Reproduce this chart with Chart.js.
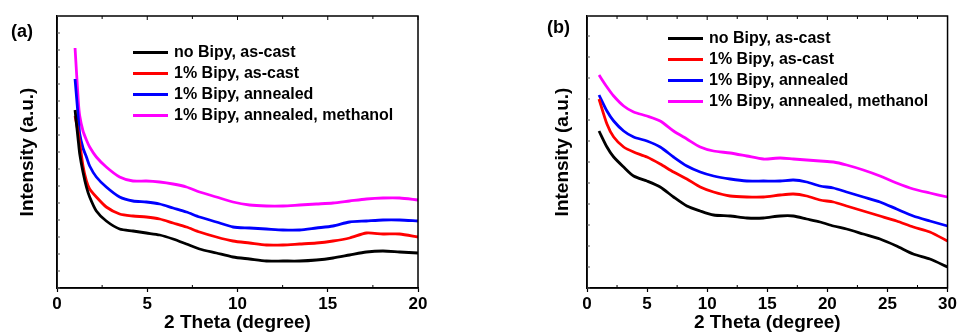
<!DOCTYPE html>
<html lang="en">
<head>
  <meta charset="UTF-8">
  <title>XRD curves</title>
  <script src="https://cdn.jsdelivr.net/npm/chart.js"></script>
  <style>
    body { margin: 0; background: #fff; font-family: 'Liberation Sans', Arial, sans-serif; }
    .wrap { position: relative; width: 959px; height: 334px; overflow: hidden; }
    canvas { position: absolute; top: 0; }
    #chartA { left: 0; }
    #chartB { left: 480px; }
    .panel { position: absolute; font-weight: bold; font-size: 18px; line-height: 18px; color: #000; }
    .legend { position: absolute; font-weight: bold; font-size: 16px; color: #000; }
    .legend .row { position: absolute; left: 0; height: 21px; white-space: nowrap; }
    .legend .swatch { position: absolute; left: 0; top: 9px; width: 35px; height: 3px; }
    .legend .txt { position: absolute; left: 41px; top: 1px; line-height: 18px; }
  </style>
</head>
<body>
<div class="wrap">
  <canvas id="chartA" width="480" height="334"></canvas>
  <canvas id="chartB" width="479" height="334"></canvas>
  <div class="panel" style="left:11px; top:22px;">(a)</div>
  <div class="panel" style="left:547px; top:18px;">(b)</div>
  <div class="legend" id="legendA" style="left:133px; top:42px;"></div>
  <div class="legend" id="legendB" style="left:668px; top:28px;"></div>
</div>
<script>
// series
const seriesNames = ["no Bipy, as-cast", "1% Bipy, as-cast", "1% Bipy, annealed", "1% Bipy, annealed, methanol"];
const seriesColors = ["#000000", "#ff0000", "#0000ff", "#ff00ff"];

// panel (a): 2 Theta 0-20
const xA = [1.0, 1.18, 1.26, 1.44, 1.63, 1.81, 2.18, 2.73, 3.47, 4.21, 4.95, 5.69, 6.43, 7.17, 7.90, 8.83, 9.75, 10.67, 11.6, 12.52, 13.44, 14.37, 15.29, 16.21, 17.14, 18.06, 18.98, 20];
const blackA   = [178, 147, 134, 116, 101, 91, 77, 67, 59, 57, 55, 53, 49, 44, 39, 35, 31, 29, 27, 27, 27, 28, 30, 33, 36, 37, 36, 35];
const redA     = [172, 155, 145, 122, 107, 99, 91, 81, 74, 72, 71, 69, 65, 61, 56, 51, 47, 45, 43, 43, 44, 45, 47, 50, 55, 54, 54, 51];
const blueA    = [209, 170, 154, 140, 131, 122, 111, 101, 91, 87, 86, 84, 80, 76, 71, 66, 61, 60, 59, 58, 58, 60, 62, 66, 67, 68, 68, 67];
const magentaA = [240, 187, 172, 157, 148, 141, 131, 121, 111, 107, 107, 106, 104, 101, 96, 91, 86, 83, 82, 82, 83, 84, 85, 87, 89, 90, 90, 88];

// panel (b): 2 Theta 0-30
const xB = [1.0, 1.66, 2.22, 3.05, 3.88, 4.99, 6.09, 7.2, 8.31, 9.42, 10.53, 11.91, 13.3, 14.68, 16.07, 17.17, 18.28, 19.39, 20.5, 21.6, 22.99, 24.38, 25.76, 27.15, 28.53, 30];
const blackB   = [157, 141, 131, 121, 112, 107, 101, 91, 82, 77, 73, 72, 70, 70, 72, 72, 69, 66, 62, 59, 54, 49, 42, 34, 29, 21];
const redB     = [189, 164, 151, 141, 136, 131, 124, 116, 109, 101, 96, 92, 91, 91, 93, 94, 92, 88, 86, 82, 77, 72, 67, 61, 56, 47];
const blueB    = [193, 177, 167, 157, 151, 147, 141, 131, 122, 116, 112, 109, 107, 107, 107, 108, 106, 102, 100, 96, 91, 86, 79, 72, 67, 62];
const magentaB = [213, 201, 192, 182, 176, 172, 167, 157, 149, 141, 137, 135, 132, 129, 130, 129, 128, 127, 126, 123, 118, 112, 105, 99, 95, 91];

const xTicksMajor = 5;
const fontFam = "'Liberation Sans', Arial, sans-serif";

function makeSets(xs, lists) {
  return lists.map((ys, i) => ({
    label: seriesNames[i],
    data: xs.map((x, j) => ({ x: x, y: ys[j] })),
    borderColor: seriesColors[i],
    borderWidth: 2.8,
    pointRadius: 0,
    tension: 0.25,
    fill: false
  }));
}

// frame + inward ticks
const framePlugin = {
  id: 'frame',
  afterDraw(chart) {
    const { ctx, chartArea: a, scales } = chart;
    ctx.save();
    ctx.strokeStyle = '#000';
    ctx.lineWidth = 1.5;
    ctx.strokeRect(a.left, a.top, a.right - a.left, a.bottom - a.top);
    ctx.lineWidth = 1;
    scales.x.ticks.forEach(t => {
      const px = scales.x.getPixelForValue(t.value);
      const major = t.value % xTicksMajor === 0;
      ctx.beginPath();
      if (!major) { ctx.moveTo(px, a.bottom); ctx.lineTo(px, a.bottom - 3); }
      ctx.moveTo(px, a.top); ctx.lineTo(px, a.top + (major ? 4 : 3));
      ctx.stroke();
    });
    ctx.strokeStyle = '#555';
    scales.y.ticks.forEach(t => {
      const py = scales.y.getPixelForValue(t.value);
      ctx.beginPath();
      ctx.moveTo(a.left, py); ctx.lineTo(a.left + 3, py);
      ctx.stroke();
    });
    ctx.restore();
  }
};

function makeChart(id, xs, lists, xMax, yStep, padLeft, yWidth, padRight) {
  return new Chart(document.getElementById(id), {
    type: 'line',
    data: { datasets: makeSets(xs, lists) },
    plugins: [framePlugin],
    options: {
      responsive: false,
      animation: false,
      layout: { padding: { left: padLeft, right: padRight, top: 16, bottom: 0 } },
      plugins: { legend: { display: false }, tooltip: { enabled: false } },
      scales: {
        x: {
          type: 'linear', min: 0, max: xMax,
          ticks: {
            stepSize: 2.5, autoSkip: false, maxRotation: 0, padding: 2, color: '#000',
            font: { family: fontFam, weight: 'bold', size: 17 },
            callback: v => (v % xTicksMajor === 0 ? v : '')
          },
          grid: {
            drawOnChartArea: false, tickLength: 4, tickWidth: 1.2,
            tickColor: c => (c.tick && c.tick.value % xTicksMajor === 0 ? '#000' : 'rgba(0,0,0,0)')
          },
          border: { color: '#000', width: 1.5 },
          title: {
            display: true, text: '2 Theta (degree)', color: '#000',
            font: { family: fontFam, weight: 'bold', size: 19 },
            padding: { top: 0, bottom: 0 }
          },
          afterFit: s => { s.height = 46; }
        },
        y: {
          min: 0, max: 272,
          ticks: { display: false, stepSize: yStep },
          grid: { display: false },
          border: { color: '#000', width: 1.5 },
          title: {
            display: true, text: 'Intensity (a.u.)', color: '#000',
            font: { family: fontFam, weight: 'bold', size: 19 },
            padding: { top: 4, bottom: 0 }
          },
          afterFit: s => { s.width = yWidth; }
        }
      }
    }
  });
}

makeChart('chartA', xA, [blackA, redA, blueA, magentaA], 20, 17, 12, 45, 62);
makeChart('chartB', xB, [blackB, redB, blueB, magentaB], 30, 21, 67, 40, 11);

// legends
function buildLegend(id) {
  const box = document.getElementById(id);
  seriesNames.forEach((name, i) => {
    const row = document.createElement('div');
    row.className = 'row';
    row.style.top = (i * 21) + 'px';
    row.innerHTML = '<span class="swatch" style="background:' + seriesColors[i] + '"></span><span class="txt">' + name + '</span>';
    box.appendChild(row);
  });
}
buildLegend('legendA');
buildLegend('legendB');
</script>
</body>
</html>
